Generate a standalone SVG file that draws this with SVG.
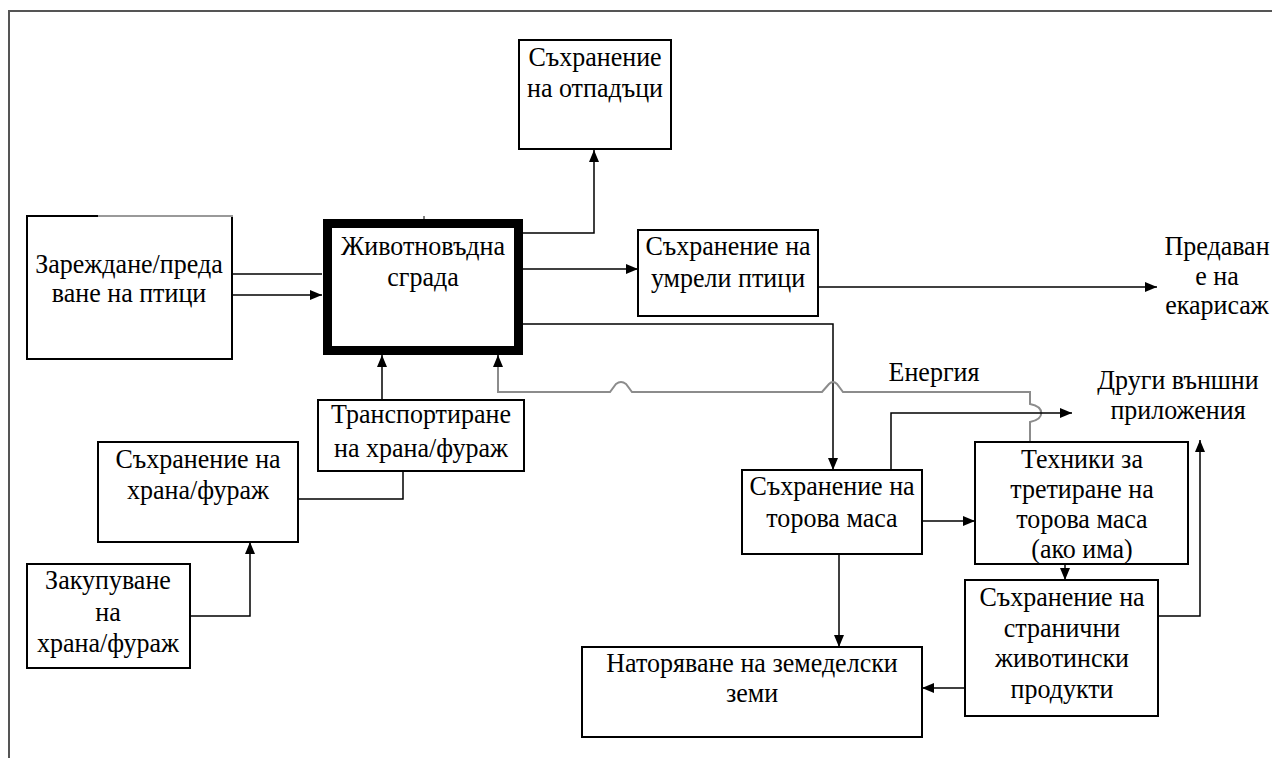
<svg xmlns="http://www.w3.org/2000/svg" width="1272" height="758" viewBox="0 0 1272 758">
<defs>
<marker id="arr" markerUnits="userSpaceOnUse" markerWidth="12" markerHeight="10" refX="12" refY="5" orient="auto">
<path d="M0,0 L12,5 L0,10 z" fill="#000"/>
</marker>
<style>
.box{fill:#fff;stroke:#000;stroke-width:2}
.thick{fill:#fff;stroke:#000;stroke-width:9}
.t{font-family:"Liberation Serif","Times New Roman",serif;font-size:28px;fill:#000;text-anchor:middle}
.c{fill:none;stroke:#000;stroke-width:1.5}
.g{fill:none;stroke:#8c8c8c;stroke-width:2}
.frame{fill:none;stroke:#555;stroke-width:2}
</style>
</defs>
<rect width="1272" height="758" fill="#fff"/>
<path class="frame" d="M1272,11 H9 V758"/>

<g id="connectors">
<path class="c" d="M233,274 H322"/>
<path class="c" d="M233,295 H322" marker-end="url(#arr)"/>
<path class="c" d="M523,233 H594 V150" marker-end="url(#arr)"/>
<path class="c" d="M523,269 H638" marker-end="url(#arr)"/>
<path class="c" d="M818,287 H1157" marker-end="url(#arr)"/>
<path class="c" d="M523,324 H833 V470" marker-end="url(#arr)"/>
<path class="c" d="M382,400 V355" marker-end="url(#arr)"/>
<path class="g" d="M1030,442 V422 C1045,419 1045,407 1030,404 V392 H843 L837,384 Q833,380 829,384 L822,392 H632 L626,384 Q621,380 616,384 L610,392 H498 V360"/>
<path class="c" d="M498,367 V355" marker-end="url(#arr)"/>
<path class="c" d="M298,499 H403 V471"/>
<path class="c" d="M190,616 H250 V542" marker-end="url(#arr)"/>
<path class="c" d="M891,470 V413 H1072" marker-end="url(#arr)"/>
<path class="c" d="M922,521 H975" marker-end="url(#arr)"/>
<path class="c" d="M1065,564 V580" marker-end="url(#arr)"/>
<path class="c" d="M1158,616 H1200 V440" marker-end="url(#arr)"/>
<path class="c" d="M965,688 H922" marker-end="url(#arr)"/>
<path class="c" d="M839,554 V647" marker-end="url(#arr)"/>
<text class="t" transform="translate(934,381) scale(0.93,1)">Енергия</text>
</g>

<g id="n-loading">
<rect class="box" x="27" y="216" width="205" height="143"/>
<path d="M98,216 H233" stroke="#999" stroke-width="2"/>
<text class="t" transform="translate(129,273) scale(0.93,1)">Зареждане/преда</text>
<text class="t" transform="translate(129,302) scale(0.93,1)">ване на птици</text>
</g>

<g id="n-building">
<rect class="thick" x="327.5" y="223.5" width="191" height="127"/>
<path d="M424,216 V220" stroke="#000" stroke-width="1"/>
<text class="t" transform="translate(423,255) scale(0.93,1)">Животновъдна</text>
<text class="t" transform="translate(423,286) scale(0.93,1)">сграда</text>
</g>

<g id="n-waste">
<rect class="box" x="519" y="40" width="152" height="109"/>
<text class="t" transform="translate(595,66) scale(0.93,1)">Съхранение</text>
<text class="t" transform="translate(595,97) scale(0.93,1)">на отпадъци</text>
</g>

<g id="n-dead">
<rect class="box" x="638" y="230" width="180" height="86"/>
<text class="t" transform="translate(728,255) scale(0.93,1)">Съхранение на</text>
<text class="t" transform="translate(728,287) scale(0.93,1)">умрели птици</text>
</g>

<g id="n-rendering">
<text class="t" transform="translate(1217,255) scale(0.93,1)">Предаван</text>
<text class="t" transform="translate(1217,285) scale(0.93,1)">е на</text>
<text class="t" transform="translate(1217,314) scale(0.93,1)">екарисаж</text>
</g>

<g id="n-transport">
<rect class="box" x="318" y="400" width="206" height="71"/>
<text class="t" transform="translate(421,423) scale(0.93,1)">Транспортиране</text>
<text class="t" transform="translate(421,457) scale(0.93,1)">на храна/фураж</text>
</g>

<g id="n-feedstore">
<rect class="box" x="98" y="442" width="200" height="100"/>
<text class="t" transform="translate(198,468) scale(0.93,1)">Съхранение на</text>
<text class="t" transform="translate(198,499) scale(0.93,1)">храна/фураж</text>
</g>

<g id="n-purchase">
<rect class="box" x="27" y="564" width="163" height="104"/>
<text class="t" transform="translate(108,589) scale(0.93,1)">Закупуване</text>
<text class="t" transform="translate(108,621) scale(0.93,1)">на</text>
<text class="t" transform="translate(108,652) scale(0.93,1)">храна/фураж</text>
</g>

<g id="n-manure">
<rect class="box" x="742" y="470" width="180" height="84"/>
<text class="t" transform="translate(832,495) scale(0.93,1)">Съхранение на</text>
<text class="t" transform="translate(832,527) scale(0.93,1)">торова маса</text>
</g>

<g id="n-other">
<text class="t" transform="translate(1178,389) scale(0.93,1)">Други външни</text>
<text class="t" transform="translate(1178,419) scale(0.93,1)">приложения</text>
</g>

<g id="n-treatment">
<rect class="box" x="975" y="442" width="213" height="122"/>
<text class="t" transform="translate(1082,468) scale(0.93,1)">Техники за</text>
<text class="t" transform="translate(1082,498) scale(0.93,1)">третиране на</text>
<text class="t" transform="translate(1082,528) scale(0.93,1)">торова маса</text>
<text class="t" transform="translate(1082,558) scale(0.93,1)">(ако има)</text>
</g>

<g id="n-byproducts">
<rect class="box" x="965" y="580" width="193" height="136"/>
<text class="t" transform="translate(1062,606) scale(0.93,1)">Съхранение на</text>
<text class="t" transform="translate(1062,637) scale(0.93,1)">странични</text>
<text class="t" transform="translate(1062,667) scale(0.93,1)">животински</text>
<text class="t" transform="translate(1062,698) scale(0.93,1)">продукти</text>
</g>

<g id="n-fertilise">
<rect class="box" x="582" y="647" width="340" height="90"/>
<text class="t" transform="translate(752,672) scale(0.93,1)">Наторяване на земеделски</text>
<text class="t" transform="translate(752,702) scale(0.93,1)">земи</text>
</g>
</svg>
